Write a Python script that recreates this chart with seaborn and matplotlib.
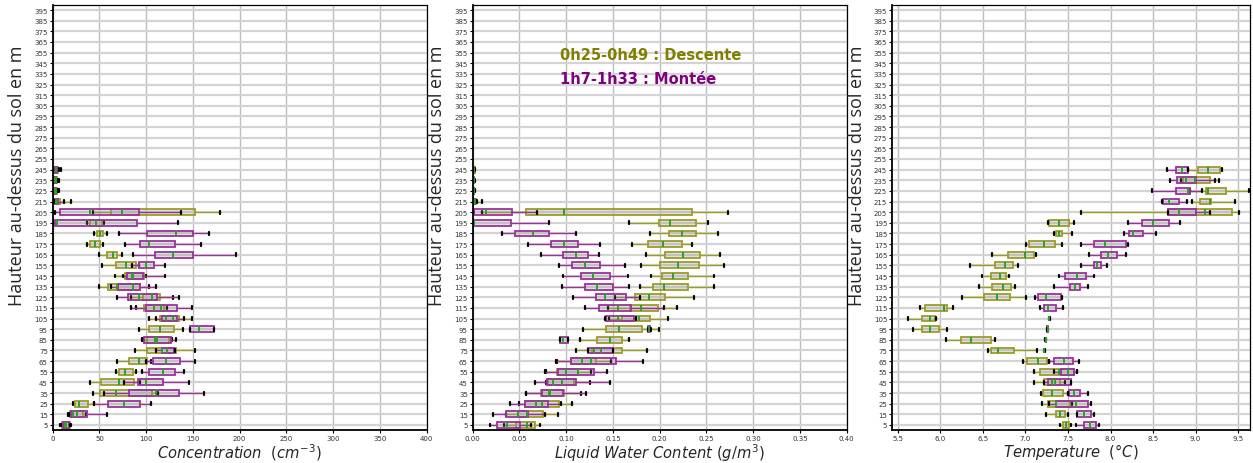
import matplotlib
matplotlib.use("Agg")
import matplotlib.pyplot as plt
import numpy as np
import pandas as pd
import seaborn as sns

# Altitude bins (m) and the tick grid of the vertical axis
altitudes = list(range(5, 250, 10))
ytick_values = list(range(5, 400, 10))

# Five-number summaries per altitude bin: (min, Q1, median, Q3, max)
# --- Concentration (cm^-3)
conc_descente = [
    (8, 10, 14, 18, 20), (16, 18, 22, 32, 36), (21.4, 24, 28.2, 38.2, 44.3),
    (43, 50.7, 67.9, 106, 113), (40, 51.8, 70.4, 87, 93), (67.5, 71.4, 77.5, 85.4, 89.3),
    (69.3, 82, 92.5, 100.7, 105), (87.5, 100.7, 116.8, 131.8, 152.5), (97, 101, 109.6, 124, 128),
    (92.5, 102.5, 115, 129.3, 139), (103, 114.3, 121.4, 134.6, 149), (89, 97.9, 108, 119.3, 122),
    (84, 96.4, 106, 114.3, 129), (49, 59.6, 68.6, 92.9, 103), (67, 77.5, 85.7, 97.9, 100),
    (53.2, 67.5, 78.6, 89.3, 92), (49, 57.9, 65, 69.3, 74), (37, 40, 45.4, 50.7, 54.3),
    (44.6, 47, 50.7, 54.3, 57.9), (37, 40, 46.4, 52.5, 55), (43, 62, 74.6, 152.5, 178.6),
    (1, 3, 5, 8, 20), (0.5, 1.5, 3, 5, 7), (0.5, 1.5, 3, 5, 7), (0.5, 2, 3.5, 6, 9),
]
conc_montee = [
    (9, 11, 13, 17, 19), (17, 19.6, 26.4, 37, 58.6), (44, 59.6, 76, 92.9, 105),
    (55, 82, 110, 135.4, 162), (76.4, 90.7, 99.6, 117.5, 145.4), (95, 102.5, 117.9, 130.4, 140),
    (100, 107, 121.4, 136.4, 151.8), (110, 116.8, 122, 129.3, 131), (95, 98, 112, 126, 132),
    (147, 147, 157, 173, 173), (110, 117, 128.6, 133, 140), (83.6, 100, 116, 132.9, 149),
    (69.3, 81, 91.8, 112, 135.4), (62, 70, 86.4, 93, 110), (75.7, 79.3, 84.6, 97, 119.6),
    (84.6, 91.8, 99.6, 108.6, 120.4), (86.4, 109.6, 129, 149.6, 196.4), (76.8, 92.9, 103, 130.4, 158.6),
    (71.4, 100.7, 132, 150, 166.8), (0.7, 2.5, 5, 90, 134), (2.5, 7.9, 40, 91.8, 137.5),
    (1, 2, 4, 6, 12), (0.5, 1, 2.5, 4, 6), (0.5, 1, 2.5, 4, 6), (0.5, 1.5, 3, 5, 7),
]

# --- Liquid water content (g/m^3)
lwc_descente = [
    (0.033, 0.046, 0.058, 0.0668, 0.072), (0.036, 0.048, 0.0586, 0.075, 0.091),
    (0.049, 0.056, 0.068, 0.092, 0.106), (0.057, 0.073, 0.082, 0.098, 0.116),
    (0.0786, 0.081, 0.0953, 0.1085, 0.1257), (0.0786, 0.09, 0.10, 0.113, 0.127),
    (0.09, 0.105, 0.126, 0.132, 0.148), (0.111, 0.1275, 0.137, 0.1596, 0.1864),
    (0.115, 0.133, 0.147, 0.160, 0.1675), (0.1175, 0.143, 0.157, 0.181, 0.199),
    (0.146, 0.16, 0.1775, 0.19, 0.2085), (0.145, 0.168, 0.180, 0.198, 0.2185),
    (0.1525, 0.1739, 0.1889, 0.2053, 0.2364), (0.179, 0.1928, 0.2042, 0.2303, 0.2578),
    (0.191, 0.2025, 0.2139, 0.2303, 0.2578), (0.180, 0.2007, 0.220, 0.2425, 0.2685),
    (0.1857, 0.2053, 0.2246, 0.2428, 0.264), (0.170, 0.188, 0.2035, 0.224, 0.2346),
    (0.19, 0.2096, 0.224, 0.239, 0.2625), (0.1668, 0.199, 0.2107, 0.239, 0.2514),
    (0.01, 0.0568, 0.098, 0.2346, 0.273), (0.0, 0.001, 0.002, 0.0035, 0.0096),
    (0.0, 0.0005, 0.001, 0.0015, 0.0025), (0.0, 0.0005, 0.001, 0.0015, 0.0025),
    (0.0, 0.0005, 0.001, 0.002, 0.003),
]
lwc_montee = [
    (0.018, 0.0264, 0.037, 0.0507, 0.062), (0.022, 0.0357, 0.048, 0.0596, 0.0768),
    (0.04, 0.056, 0.074, 0.081, 0.094), (0.057, 0.074, 0.083, 0.097, 0.121),
    (0.0668, 0.080, 0.0864, 0.110, 0.147), (0.0775, 0.091, 0.113, 0.130, 0.1435),
    (0.089, 0.105, 0.117, 0.153, 0.182), (0.123, 0.123, 0.13, 0.15, 0.15),
    (0.0936, 0.0936, 0.097, 0.1018, 0.1018), (0.1875, 0.188, 0.189, 0.19, 0.1905),
    (0.141, 0.143, 0.155, 0.172, 0.175), (0.1196, 0.1346, 0.155, 0.1696, 0.2042),
    (0.107, 0.1314, 0.1417, 0.1639, 0.179), (0.096, 0.1196, 0.1328, 0.150, 0.1668),
    (0.097, 0.1157, 0.1286, 0.1464, 0.1657), (0.0928, 0.106, 0.1203, 0.1357, 0.1625),
    (0.073, 0.0964, 0.110, 0.123, 0.1346), (0.059, 0.0839, 0.098, 0.1121, 0.1364),
    (0.031, 0.0454, 0.065, 0.0818, 0.110), (0.0, 0.0005, 0.001, 0.0407, 0.0818),
    (0.0, 0.0018, 0.0143, 0.0418, 0.0686), (0.0, 0.0005, 0.001, 0.002, 0.005),
    (0.0, 0.0003, 0.0006, 0.001, 0.0015), (0.0, 0.0003, 0.0006, 0.001, 0.0015),
    (0.0, 0.0003, 0.0006, 0.001, 0.0015),
]

# --- Temperature (°C)
temp_descente = [
    (7.407, 7.44, 7.48, 7.517, 7.53), (7.24, 7.36, 7.40, 7.46, 7.50), (7.19, 7.27, 7.36, 7.525, 7.55),
    (7.18, 7.20, 7.31, 7.44, 7.50), (7.10, 7.22, 7.31, 7.40, 7.47), (7.096, 7.175, 7.39, 7.576, 7.60),
    (6.966, 7.017, 7.143, 7.253, 7.28), (6.56, 6.60, 6.68, 6.867, 7.135), (6.06, 6.245, 6.355, 6.59, 6.64),
    (5.677, 5.784, 5.88, 5.98, 6.08), (5.614, 5.784, 5.88, 5.93, 5.953), (5.764, 5.815, 6.04, 6.08, 6.146),
    (6.25, 6.51, 6.67, 6.82, 7.005), (6.45, 6.61, 6.73, 6.83, 6.88), (6.485, 6.60, 6.70, 6.77, 6.81),
    (6.35, 6.64, 6.76, 6.855, 6.907), (6.61, 6.79, 6.99, 7.096, 7.12), (7.01, 7.045, 7.22, 7.352, 7.43),
    (7.33, 7.36, 7.39, 7.43, 7.55), (7.26, 7.28, 7.39, 7.517, 7.576), (7.655, 8.68, 9.11, 9.43, 9.507),
    (8.955, 9.055, 9.17, 9.185, 9.467), (8.93, 9.12, 9.15, 9.357, 9.625), (8.83, 8.857, 8.99, 9.172, 9.28),
    (8.916, 9.034, 9.145, 9.29, 9.31),
]
temp_montee = [
    (7.596, 7.687, 7.76, 7.825, 7.864), (7.60, 7.61, 7.687, 7.77, 7.80), (7.28, 7.36, 7.59, 7.74, 7.765),
    (7.50, 7.51, 7.57, 7.636, 7.734), (7.22, 7.26, 7.35, 7.53, 7.53), (7.34, 7.42, 7.50, 7.57, 7.608),
    (7.28, 7.33, 7.45, 7.557, 7.628), (7.215, 7.218, 7.22, 7.222, 7.225), (7.235, 7.238, 7.24, 7.242, 7.245),
    (7.255, 7.258, 7.26, 7.262, 7.265), (7.275, 7.278, 7.28, 7.282, 7.285), (7.175, 7.22, 7.26, 7.36, 7.446),
    (7.115, 7.143, 7.24, 7.42, 7.43), (7.33, 7.525, 7.584, 7.643, 7.734), (7.39, 7.47, 7.60, 7.706, 7.81),
    (7.647, 7.805, 7.845, 7.89, 7.963), (7.746, 7.89, 7.97, 8.077, 8.187), (7.655, 7.80, 7.94, 8.187, 8.207),
    (8.16, 8.215, 8.26, 8.384, 8.54), (8.20, 8.365, 8.495, 8.69, 8.82), (8.68, 8.68, 8.80, 9.0, 9.17),
    (8.60, 8.62, 8.69, 8.80, 8.90), (8.49, 8.77, 8.91, 8.93, 9.08), (8.70, 8.778, 8.89, 9.007, 9.23),
    (8.66, 8.766, 8.845, 8.908, 8.916),
]

panel_xlabels = [
    r"$Concentration\ \ (cm^{-3})$",
    r"$Liquid\ Water\ Content\ (g/m^{3})$",
    r"$Temperature\ \ (°C)$",
]
panel_xlims = [(0, 400), (0, 0.40), (5.43, 9.64)]
panel_xticks = [
    list(range(0, 401, 50)),
    [0.00, 0.05, 0.10, 0.15, 0.20, 0.25, 0.30, 0.35, 0.40],
    [5.5, 6.0, 6.5, 7.0, 7.5, 8.0, 8.5, 9.0, 9.5],
]
panel_xticklabels = [
    [str(v) for v in range(0, 401, 50)],
    ["0.00", "0.05", "0.10", "0.15", "0.20", "0.25", "0.30", "0.35", "0.40"],
    ["5.5", "6.0", "6.5", "7.0", "7.5", "8.0", "8.5", "9.0", "9.5"],
]
ylabel_text = "Hauteur au-dessus du sol en m"
legend_lines = ["0h25-0h49 : Descente", "1h7-1h33 : Montée"]

DESC_EDGE = "#9c9c28"
MONT_EDGE = "#9a329a"
DESC_TEXT = "#808000"
MONT_TEXT = "#800080"
MEDIAN = "#2ca02c"

sns.set_style("whitegrid")
plt.rcParams["font.family"] = ["DejaVu Sans"]
plt.rcParams["mathtext.fontset"] = "dejavusans"


def long_table(summaries):
    rows = []
    for alt, five in zip(altitudes, summaries):
        for v in five:
            rows.append((alt, v))
    return pd.DataFrame(rows, columns=["altitude", "value"])


def draw_series(ax, summaries, edge):
    sns.boxplot(
        data=long_table(summaries), x="value", y="altitude", orient="y",
        native_scale=True, width=0.55, whis=(0, 100), showfliers=False, ax=ax,
        boxprops=dict(facecolor=(0.55, 0.55, 0.55, 0.24), edgecolor=edge, linewidth=1.3),
        whiskerprops=dict(color=edge, linewidth=1.0),
        capprops=dict(color="black", linewidth=1.6),
        medianprops=dict(color=MEDIAN, linewidth=1.4),
    )


fig = plt.figure(figsize=(12.53, 4.64), dpi=100)
rects = [
    [0.04206, 0.0705, 0.29848, 0.9172],
    [0.37725, 0.0705, 0.29848, 0.9172],
    [0.71189, 0.0705, 0.28570, 0.9172],
]
series = [
    (conc_descente, conc_montee),
    (lwc_descente, lwc_montee),
    (temp_descente, temp_montee),
]

for i, rect in enumerate(rects):
    ax = fig.add_axes(rect)
    ax.set_axisbelow(True)
    desc, mont = series[i]
    draw_series(ax, desc, DESC_EDGE)
    draw_series(ax, mont, MONT_EDGE)

    ax.set_xlim(*panel_xlims[i])
    ax.set_ylim(0, 400)
    ax.set_yticks(ytick_values)
    ax.set_yticklabels([str(v) for v in ytick_values])
    ax.set_xticks(panel_xticks[i])
    ax.set_xticklabels(panel_xticklabels[i])

    ax.grid(False)
    ax.grid(axis="y", color="#d4d4d4", linewidth=1.6)
    ax.grid(axis="x", color="#bdbdbd", linewidth=1.0)

    for name, sp in ax.spines.items():
        sp.set_visible(True)
        sp.set_color("black")
        sp.set_linewidth(1.3 if name in ("left", "bottom") else 0.9)

    ax.tick_params(axis="both", which="major", length=2.5, width=0.8, color="black",
                   labelsize=5, labelcolor="#333333", pad=1.0,
                   bottom=True, left=True)

    ax.set_xlabel(panel_xlabels[i], fontsize=10.6)
    ax.xaxis.set_label_coords(0.5, -0.025)
    ax.set_ylabel(ylabel_text, fontsize=13, family=["Open Sans", "DejaVu Sans"])
    ax.yaxis.set_label_coords(-0.072, 0.60)

    if i == 1:
        ax.text(0.093, 353, legend_lines[0], color=DESC_TEXT, fontsize=10.5,
                fontweight="bold", va="center", ha="left")
        ax.text(0.093, 331, legend_lines[1], color=MONT_TEXT, fontsize=10.5,
                fontweight="bold", va="center", ha="left")

fig.savefig("out.png", dpi=100)
